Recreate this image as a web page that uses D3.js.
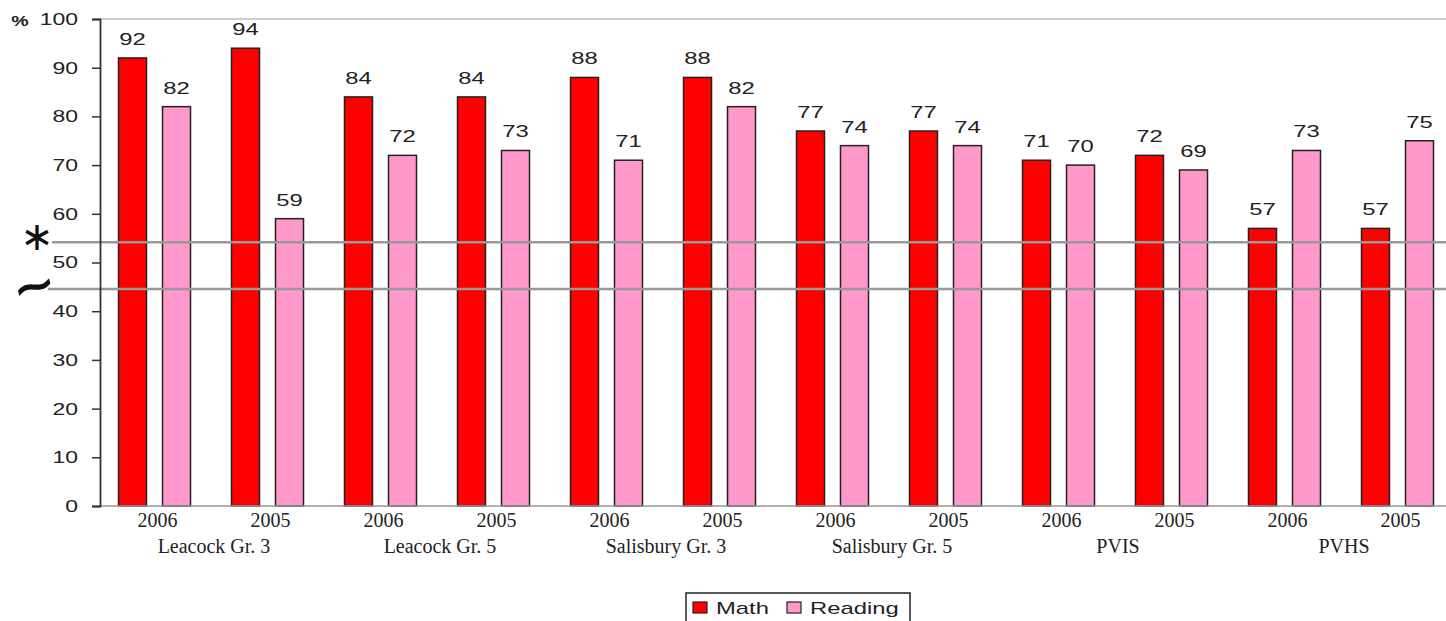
<!DOCTYPE html>
<html>
<head>
<meta charset="utf-8">
<script src="https://cdn.jsdelivr.net/npm/d3@7"></script>
<style>
  body { margin: 0; background: #fff; }
  svg { display: block; }
</style>
</head>
<body>
<svg id="chart" width="1446" height="621"></svg>
<script>
const schools = ['Leacock Gr. 3', 'Leacock Gr. 5', 'Salisbury Gr. 3', 'Salisbury Gr. 5', 'PVIS', 'PVHS'];
const years = ['2006', '2005'];
const math = [92, 94, 84, 84, 88, 88, 77, 77, 71, 72, 57, 57];
const reading = [82, 59, 72, 73, 71, 82, 74, 74, 70, 69, 73, 75];
const yTicks = [0, 10, 20, 30, 40, 50, 60, 70, 80, 90, 100];
const markers = [{ value: 54.15, symbol: '\u2217' }, { value: 44.55, symbol: '~' }];

const colors = { Math: '#ff0000', Reading: '#ff99cc' };
const sans = 'Liberation Sans, Arial, sans-serif';
const serif = 'Liberation Serif, Times New Roman, serif';

const svg = d3.select('#chart');
const width = 1446;

// the sans text in the picture is wider than Arial, so stretch it a bit
const stretch = (sel, f) => sel.each(function () {
  const w = this.getComputedTextLength();
  d3.select(this).attr('textLength', w * f).attr('lengthAdjust', 'spacingAndGlyphs');
});

const groups = [];
schools.forEach(s => years.forEach(y => groups.push(s + '|' + y)));
const data = groups.map((g, i) => ({ key: g, school: g.split('|')[0], year: g.split('|')[1], Math: math[i], Reading: reading[i] }));

const x = d3.scaleBand(groups, [98, 1454]);
const series = d3.scaleBand(['Math', 'Reading'], [-36, 36]).paddingInner(16 / 44);
const y = d3.scaleLinear([0, 100], [506, 19]);

/*
Frame line at the top
*/
svg.append('line')
  .attr('x1', 100).attr('x2', width)
  .attr('y1', y(100)).attr('y2', y(100))
  .style('stroke', '#999').style('stroke-width', 1.2);

/*
Bars and value labels
*/
const g = svg.selectAll('g.group')
  .data(data)
  .join('g')
  .attr('class', 'group')
  .attr('transform', d => `translate(${x(d.key) + x.bandwidth() / 2},0)`);

['Math', 'Reading'].forEach(k => {
  g.append('rect')
    .attr('x', series(k))
    .attr('width', series.bandwidth())
    .attr('y', d => y(d[k]))
    .attr('height', d => y(0) - y(d[k]))
    .style('fill', colors[k])
    .style('stroke', '#222')
    .style('stroke-width', 1.5);
  g.append('text')
    .attr('x', series(k) + series.bandwidth() / 2)
    .attr('y', d => y(d[k]) - 13)
    .attr('text-anchor', 'middle')
    .style('font-family', sans)
    .style('font-size', '17px')
    .style('fill', '#222')
    .text(d => d[k])
    .call(stretch, 1.4);
});

/*
Reference lines with their symbols
*/
markers.forEach((m, i) => {
  svg.append('line')
    .attr('x1', i === 0 ? 52 : 48).attr('x2', width)
    .attr('y1', y(m.value)).attr('y2', y(m.value))
    .style('stroke', '#999').style('stroke-width', 2.5);
});
svg.append('text')
  .attr('x', 37).attr('y', y(markers[0].value) + 8)
  .attr('text-anchor', 'middle')
  .style('font-family', 'DejaVu Sans, sans-serif')
  .style('font-size', '40px')
  .style('fill', '#111')
  .text(markers[0].symbol);
svg.append('text')
  .attr('transform', `translate(38,${y(markers[1].value) + 12}) rotate(-15)`)
  .attr('text-anchor', 'middle')
  .style('font-family', 'DejaVu Sans, sans-serif')
  .style('font-size', '46px')
  .style('font-weight', 'bold')
  .style('fill', '#111')
  .text(markers[1].symbol)
  .call(stretch, 1.15);

/*
Axes
*/
svg.append('line')
  .attr('x1', 100).attr('x2', width)
  .attr('y1', y(0)).attr('y2', y(0))
  .style('stroke', '#999').style('stroke-width', 1.5);

const yAxis = svg.append('g')
  .attr('transform', 'translate(100,0)')
  .call(d3.axisLeft(y).tickValues(yTicks).tickSize(8).tickPadding(14));
yAxis.select('.domain').style('stroke', '#333').style('stroke-width', 1.8);
yAxis.selectAll('.tick line').style('stroke', '#333').style('stroke-width', 1.5);
yAxis.selectAll('text')
  .style('font-family', sans)
  .style('font-size', '17px')
  .style('fill', '#222')
  .call(stretch, 1.35);

svg.append('text')
  .attr('x', 20).attr('y', 26)
  .attr('text-anchor', 'middle')
  .style('font-family', sans)
  .style('font-size', '15px')
  .style('font-weight', 'bold')
  .style('fill', '#222')
  .text('%')
  .call(stretch, 1.3);

const xAxis = svg.append('g')
  .attr('transform', `translate(0,${y(0)})`)
  .call(d3.axisBottom(x).tickSize(0).tickPadding(7).tickFormat(d => d.split('|')[1]));
xAxis.select('.domain').remove();
xAxis.selectAll('text')
  .attr('dx', 3)
  .style('font-family', serif)
  .style('font-size', '20px')
  .style('fill', '#222');

svg.selectAll('text.school')
  .data(schools)
  .join('text')
  .attr('class', 'school')
  .attr('x', (s, i) => (x(groups[i * 2]) + x(groups[i * 2 + 1]) + x.bandwidth()) / 2 + 3)
  .attr('y', 553)
  .attr('text-anchor', 'middle')
  .style('font-family', serif)
  .style('font-size', '20px')
  .style('fill', '#222')
  .text(s => s);

/*
Legend
*/
const legend = svg.append('g').attr('transform', 'translate(686,593)');
legend.append('rect')
  .attr('width', 224).attr('height', 34)
  .style('fill', '#fff').style('stroke', '#222').style('stroke-width', 1.5);
const items = [{ k: 'Math', x: 7 }, { k: 'Reading', x: 101 }];
items.forEach(it => {
  legend.append('rect')
    .attr('x', it.x).attr('y', 9)
    .attr('width', 14).attr('height', 11)
    .style('fill', colors[it.k]).style('stroke', '#222').style('stroke-width', 1.2);
  legend.append('text')
    .attr('x', it.x + 23).attr('y', 21)
    .style('font-family', sans)
    .style('font-size', '17px')
    .style('fill', '#222')
    .text(it.k)
    .call(stretch, 1.4);
});
</script>
</body>
</html>
